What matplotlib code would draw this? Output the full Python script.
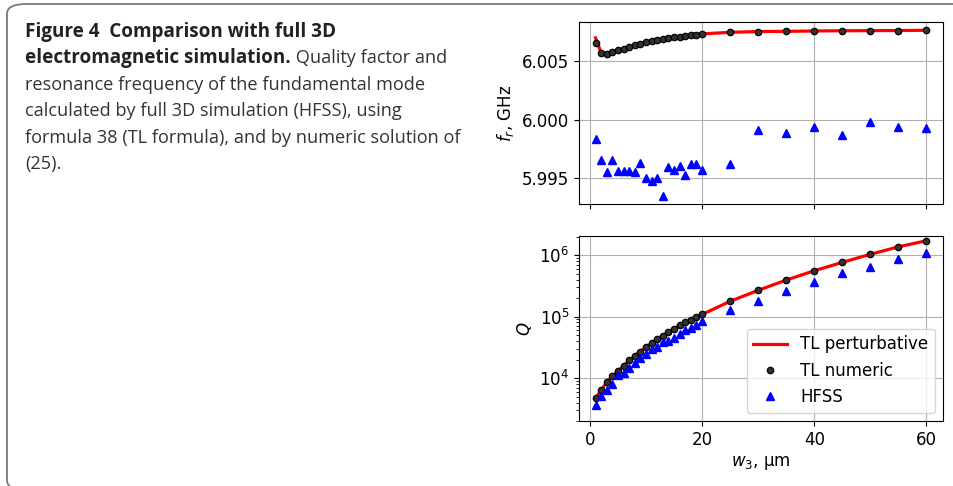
import matplotlib.pyplot as plt
from matplotlib.patches import FancyBboxPatch

# width of the central strip, micrometres
w3 = [1, 2, 3, 4, 5, 6, 7, 8, 9, 10, 11, 12, 13, 14, 15, 16, 17, 18, 19, 20,
      25, 30, 35, 40, 45, 50, 55, 60]

# resonance frequency, GHz
f_tl_pert = [6.00700, 6.00573, 6.00565, 6.00579, 6.00593, 6.00607, 6.00621, 6.00635,
             6.00649, 6.00663, 6.00675, 6.00683, 6.00692, 6.00700, 6.00706, 6.00711,
             6.00717, 6.00723, 6.00728, 6.00734,
             6.00748, 6.00754, 6.00756, 6.00759, 6.00761, 6.00762, 6.00763, 6.00765]
f_tl_num = [6.00658] + f_tl_pert[1:]
f_hfss = [5.99832, 5.99652, 5.99551, 5.99652, 5.99556, 5.99559, 5.99556, 5.99551,
          5.99627, 5.99500, 5.99478, 5.99497, 5.99348, 5.99593, 5.99565, 5.99607,
          5.99522, 5.99619, 5.99619, 5.99565,
          5.99624, 5.99908, 5.99883, 5.99934, 5.99866, 5.99979, 5.99934, 5.99925]

# quality factor
q_tl = [4.67e3, 6.4e3, 8.5e3, 1.06e4, 1.31e4, 1.58e4, 1.94e4, 2.28e4, 2.7e4, 3.2e4,
        3.7e4, 4.3e4, 4.9e4, 5.6e4, 6.3e4, 7.2e4, 8.0e4, 8.9e4, 9.8e4, 1.08e5,
        1.77e5, 2.67e5, 3.92e5, 5.56e5, 7.6e5, 1.03e6, 1.36e6, 1.71e6]
q_hfss = [3.64e3, 5.1e3, 6.5e3, 8.0e3, 1.1e4, 1.22e4, 1.46e4, 1.75e4, 2.09e4, 2.43e4,
          2.93e4, 3.19e4, 3.8e4, 4.04e4, 4.53e4, 5.14e4, 5.97e4, 6.43e4, 7.19e4, 8.55e4,
          1.28e5, 1.81e5, 2.63e5, 3.64e5, 5.04e5, 6.46e5, 8.51e5, 1.07e6]

caption_bold = ['Figure 4  Comparison with full 3D', 'electromagnetic simulation.']
caption_rest = [' Quality factor and',
                'resonance frequency of the fundamental mode',
                'calculated by full 3D simulation (HFSS), using',
                'formula 38 (TL formula), and by numeric solution of',
                '(25).']

plt.rcParams['font.size'] = 12

fig = plt.figure(figsize=(9.54, 4.86), dpi=100)

# rounded frame around the figure block
frame = FancyBboxPatch((7 / 954, -4 / 486), 1.2, 1.0,
                       boxstyle='round,pad=0,rounding_size=0.02',
                       transform=fig.transFigure, fill=False,
                       edgecolor='#7a7a7a', linewidth=1.3, clip_on=False)
fig.patches.append(frame)

ax1 = fig.add_axes([0.6069, 0.5802, 0.3816, 0.3745])
ax2 = fig.add_axes([0.6069, 0.1337, 0.3816, 0.3807], sharex=ax1)

ms_circ = dict(marker='o', ls='none', ms=4.6, mfc='0.2', mec='k', mew=0.9)
ms_tri = dict(marker='^', ls='none', ms=5.2, color='b')

ax1.plot(w3, f_tl_pert, color='r', lw=2.3, label='TL perturbative')
ax1.plot(w3, f_tl_num, label='TL numeric', **ms_circ)
ax1.plot(w3, f_hfss, label='HFSS', **ms_tri)
ax1.set_ylabel('$f_r$, GHz')
ax1.set_yticks([5.995, 6.000, 6.005])
ax1.grid(True)
ax1.tick_params(labelbottom=False)

ax2.plot(w3, q_tl, color='r', lw=2.3, label='TL perturbative')
ax2.plot(w3, q_tl, label='TL numeric', **ms_circ)
ax2.plot(w3, q_hfss, label='HFSS', **ms_tri)
ax2.set_yscale('log')
ax2.set_ylim(2e3, 2.04e6)
ax2.set_ylabel('$Q$')
ax2.set_xlabel('$w_3$, μm')
ax2.set_xticks([0, 20, 40, 60])
ax2.grid(True)
ax2.legend(loc='lower right')

# caption
x0 = 25 / 954
lh = 26.4 / 486
y0 = 1 - 37 / 486
bold_font = dict(family='Open Sans', fontsize=13.6, color='#222222', fontweight='bold')
cap_font = dict(family='Open Sans', fontsize=13.1, color='#333333')
t = fig.text(x0, y0, caption_bold[0], **bold_font)
t2 = fig.text(x0, y0 - lh, caption_bold[1], **bold_font)
fig.canvas.draw()
bb = t2.get_window_extent(fig.canvas.get_renderer())
fig.text(bb.x1 / fig.bbox.width, y0 - lh, caption_rest[0], **cap_font)
for i, line in enumerate(caption_rest[1:]):
    fig.text(x0, y0 - (i + 2) * lh, line, **cap_font)

fig.savefig('out.png', dpi=100)
